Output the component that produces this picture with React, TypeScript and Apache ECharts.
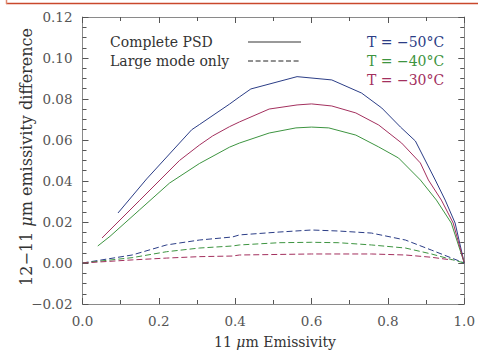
import React, { useEffect, useRef } from "react";
import * as echarts from "echarts";

// [emissivity, difference] pairs
const completeM50: number[][] = [
  [0.093, 0.0244], [0.168, 0.041], [0.286, 0.065], [0.306, 0.0675], [0.385, 0.0775], [0.411, 0.081],
  [0.441, 0.0849], [0.562, 0.0909], [0.653, 0.0893], [0.731, 0.0829], [0.784, 0.0756],
  [0.833, 0.0663], [0.872, 0.0595], [0.924, 0.0405], [0.95, 0.0307], [0.976, 0.0195], [1.0, 0.0]
];
const completeM40: number[][] = [
  [0.04, 0.0083], [0.072, 0.013], [0.15, 0.026], [0.228, 0.039], [0.306, 0.0485],
  [0.385, 0.0565], [0.411, 0.0585], [0.489, 0.0634], [0.559, 0.0659], [0.6, 0.0663],
  [0.645, 0.0659], [0.716, 0.0624], [0.776, 0.0566], [0.828, 0.0512], [0.885, 0.0405],
  [0.927, 0.0307], [0.966, 0.0195], [1.0, 0.0]
];
const completeM30: number[][] = [
  [0.051, 0.0122], [0.15, 0.0306], [0.254, 0.05], [0.306, 0.0575],
  [0.341, 0.062], [0.385, 0.0665], [0.411, 0.0688], [0.489, 0.0751], [0.562, 0.0771],
  [0.6, 0.0776], [0.653, 0.0766], [0.716, 0.0732], [0.776, 0.0673], [0.836, 0.0585],
  [0.885, 0.0488], [0.906, 0.0405], [0.94, 0.0307], [0.971, 0.0195], [1.0, 0.0]
];
const largeM50: number[][] = [
  [0.0, 0.0], [0.13, 0.0039], [0.22, 0.0088], [0.306, 0.0112], [0.393, 0.0127],
  [0.411, 0.0137], [0.515, 0.0151], [0.6, 0.0161], [0.671, 0.0156], [0.757, 0.0146],
  [0.846, 0.0112], [0.914, 0.0063], [1.0, 0.0]
];
const largeM40: number[][] = [
  [0.0, 0.0], [0.13, 0.0026], [0.22, 0.0055], [0.306, 0.0073], [0.393, 0.0083],
  [0.411, 0.0088], [0.515, 0.0099], [0.6, 0.0101], [0.671, 0.0099], [0.757, 0.0088],
  [0.846, 0.0073], [0.914, 0.0044], [1.0, 0.0]
];
const largeM30: number[][] = [
  [0.0, 0.0], [0.13, 0.0015], [0.22, 0.0024], [0.306, 0.0031], [0.393, 0.0034],
  [0.411, 0.0039], [0.6, 0.0044], [0.757, 0.0044], [0.846, 0.0039], [0.914, 0.0028],
  [0.966, 0.0015]
];

const tempLabels = ["T = \u221250\u00b0C", "T = \u221240\u00b0C", "T = \u221230\u00b0C"];
const legendLabels = ["Complete PSD", "Large mode only"];

const BLUE = "#2b3d86";
const GREEN = "#3d9440";
const RED = "#a3305e";
const FONT = "DejaVu Serif";

export default function App() {
  const ref = useRef<HTMLDivElement>(null);
  useEffect(() => {
    if (!ref.current) return;
    const chart = echarts.init(ref.current, undefined, { renderer: "svg" });
    const axisLine = { show: true, onZero: false, lineStyle: { color: "#8a8a8a", width: 1 } };
    const tick = { show: true, inside: true, length: 6, lineStyle: { color: "#555" } };
    const mk = (name: string, data: number[][], color: string, dashed: boolean) => ({
      type: "line",
      name,
      data,
      showSymbol: false,
      symbol: "none",
      lineStyle: { color, width: 1, type: dashed ? [6, 3] : "solid" },
      z: 3,
    });
    chart.setOption({
      animation: false,
      backgroundColor: "#ffffff",
      grid: { left: 82.5, right: 12, top: 17, bottom: 47 },
      xAxis: [
        {
          type: "value", min: 0, max: 1, interval: 0.2, position: "bottom",
          axisLine, splitLine: { show: false }, axisTick: tick,
          minorTick: { show: true, splitNumber: 2, length: 4, lineStyle: { color: "#555" } },
          axisLabel: { color: "#555", fontFamily: FONT, fontSize: 13.5, margin: 10, formatter: (v: number) => v.toFixed(1) },
        },
        {
          type: "value", min: 0, max: 1, interval: 0.2, position: "top",
          axisLine, splitLine: { show: false }, axisTick: tick,
          minorTick: { show: true, splitNumber: 2, length: 4, lineStyle: { color: "#555" } },
          axisLabel: { show: false },
        },
      ],
      yAxis: [
        {
          type: "value", min: -0.02, max: 0.12, interval: 0.02, position: "left",
          axisLine, splitLine: { show: false }, axisTick: tick,
          minorTick: { show: true, splitNumber: 4, length: 4, lineStyle: { color: "#555" } },
          axisLabel: { color: "#555", fontFamily: FONT, fontSize: 13.5, margin: 10, formatter: (v: number) => (v < 0 ? "\u2212" + Math.abs(v).toFixed(2) : v.toFixed(2)) },
        },
        {
          type: "value", min: -0.02, max: 0.12, interval: 0.02, position: "right",
          axisLine, splitLine: { show: false }, axisTick: tick,
          minorTick: { show: true, splitNumber: 4, length: 4, lineStyle: { color: "#555" } },
          axisLabel: { show: false },
        },
      ],
      series: [
        mk("Complete -50", completeM50, BLUE, false),
        mk("Complete -40", completeM40, GREEN, false),
        mk("Complete -30", completeM30, RED, false),
        mk("Large -50", largeM50, BLUE, true),
        mk("Large -40", largeM40, GREEN, true),
        mk("Large -30", largeM30, RED, true),
      ],
      graphic: [
        { type: "line", shape: { x1: 6, y1: 3.5, x2: 478, y2: 3.5 }, style: { stroke: "#c9482c", lineWidth: 1.5 } },
        { type: "line", shape: { x1: 6.5, y1: 0, x2: 6.5, y2: 4 }, style: { stroke: "#e08a70", lineWidth: 1.5 } },
        { type: "text", x: 110, y: 42, style: { text: legendLabels[0], font: `14px "${FONT}"`, fill: "#333", verticalAlign: "middle" } },
        { type: "text", x: 110, y: 61, style: { text: legendLabels[1], font: `14px "${FONT}"`, fill: "#333", verticalAlign: "middle" } },
        { type: "line", shape: { x1: 248, y1: 42, x2: 301, y2: 42 }, style: { stroke: "#777", lineWidth: 1.5 } },
        { type: "line", shape: { x1: 248, y1: 61, x2: 301, y2: 61 }, style: { stroke: "#222", lineWidth: 1, lineDash: [5, 2.6] } },
        { type: "text", x: 367, y: 42, style: { text: tempLabels[0], font: `14px "${FONT}"`, fill: BLUE, verticalAlign: "middle" } },
        { type: "text", x: 367, y: 61, style: { text: tempLabels[1], font: `14px "${FONT}"`, fill: GREEN, verticalAlign: "middle" } },
        { type: "text", x: 367, y: 80, style: { text: tempLabels[2], font: `14px "${FONT}"`, fill: RED, verticalAlign: "middle" } },
        {
          type: "text", x: 275, y: 342,
          style: {
            text: "11 {i|\u03bc}m Emissivity", font: `14px "${FONT}"`, fill: "#333", align: "center", verticalAlign: "middle",
            rich: { i: { font: `italic 14px "${FONT}"`, fill: "#333" } },
          },
        },
        {
          type: "text", x: 26, y: 157, rotation: Math.PI / 2,
          style: {
            text: "12\u221211 {i|\u03bc}m emissivity difference", font: `16px "${FONT}"`, fill: "#333", align: "center", verticalAlign: "middle",
            rich: { i: { font: `italic 16px "${FONT}"`, fill: "#333" } },
          },
        },
      ],
    });
    return () => chart.dispose();
  }, []);
  return <div ref={ref} style={{ position: "fixed", left: 0, top: 0, width: 478, height: 351 }} />;
}
